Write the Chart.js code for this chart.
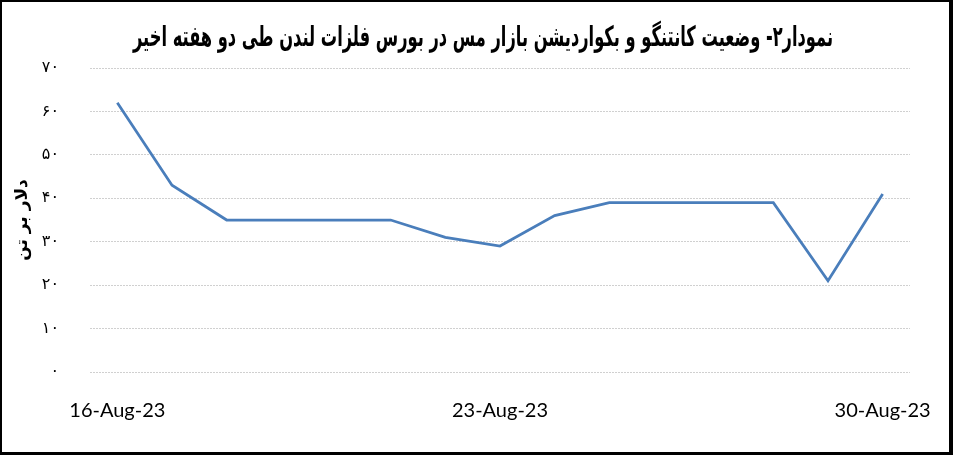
<!DOCTYPE html>
<html>
<head>
<meta charset="utf-8">
<script src="https://cdn.jsdelivr.net/npm/chart.js@4.4.0/dist/chart.umd.min.js"></script>
<style>
  body { margin: 0; background: #fff; }
  #wrap { position: relative; width: 953px; height: 455px; }
  #frame { position: absolute; left: 0; top: 0; width: 953px; height: 455px; box-sizing: border-box;
           border: 2px solid #000; border-right-width: 4px; border-bottom-width: 3px; pointer-events: none; }
</style>
</head>
<body>
<div id="wrap">
  <canvas id="chart" width="953" height="455"></canvas>
  <div id="frame"></div>
</div>
<script>
const chartTitle = 'نمودار۲- وضعیت کانتنگو و بکواردیشن بازار مس در بورس فلزات لندن طی دو هفته اخیر';
const yTitle = 'دلار بر تن';
const dates = ['16-Aug-23', '17-Aug-23', '18-Aug-23', '19-Aug-23', '20-Aug-23', '21-Aug-23', '22-Aug-23',
  '23-Aug-23', '24-Aug-23', '25-Aug-23', '26-Aug-23', '27-Aug-23', '28-Aug-23', '29-Aug-23', '30-Aug-23'];
const spread = [62, 43, 35, 35, 35, 35, 31, 29, 36, 39, 39, 39, 39, 21, 41];
const persianDigits = '۰۱۲۳۴۵۶۷۸۹';

const toFa = v => String(v).replace(/\d/g, d => persianDigits[d]);

// title drawn squeezed to match the narrow bold font of the original
const titlePlugin = {
  id: 'faTitle',
  afterDraw(chart) {
    const ctx = chart.ctx;
    ctx.save();
    ctx.font = 'bold 28px "DejaVu Sans", sans-serif';
    ctx.fillStyle = '#000';
    ctx.textAlign = 'center';
    ctx.textBaseline = 'middle';
    ctx.direction = 'rtl';
    ctx.fillText(chartTitle, 483, 39, 700);
    ctx.restore();
  }
};

new Chart(document.getElementById('chart'), {
  type: 'line',
  data: {
    labels: dates,
    datasets: [{
      data: spread,
      borderColor: '#4a7ebb',
      borderWidth: 2.75,
      pointRadius: 0,
      tension: 0,
      fill: false
    }]
  },
  options: {
    responsive: false,
    animation: false,
    layout: { padding: { top: 68, right: 43, bottom: 0, left: 0 } },
    plugins: { legend: { display: false }, tooltip: { enabled: false } },
    scales: {
      x: {
        offset: true,
        grid: { display: false },
        border: { display: false },
        afterFit: s => { s.height = 83; },
        ticks: {
          autoSkip: false,
          maxRotation: 0,
          padding: 19,
          color: '#000',
          font: { family: 'Lato', size: 20 },
          callback: function (v, i) { return i % 7 === 0 ? this.getLabelForValue(v) : ''; }
        }
      },
      y: {
        min: 0,
        max: 70,
        afterFit: s => { s.width = 90; },
        border: { display: false, dash: [2, 1] },
        grid: { color: '#d0d0d0', lineWidth: 1, drawTicks: false },
        ticks: {
          stepSize: 10,
          padding: 31,
          color: '#000',
          font: { family: 'DejaVu Sans', size: 16 },
          callback: v => toFa(v)
        },
        title: {
          display: true,
          text: yTitle,
          color: '#000',
          font: { family: 'DejaVu Sans', size: 17, weight: 'bold' },
          padding: { top: 12, bottom: 0 }
        }
      }
    }
  },
  plugins: [titlePlugin]
});
</script>
</body>
</html>
